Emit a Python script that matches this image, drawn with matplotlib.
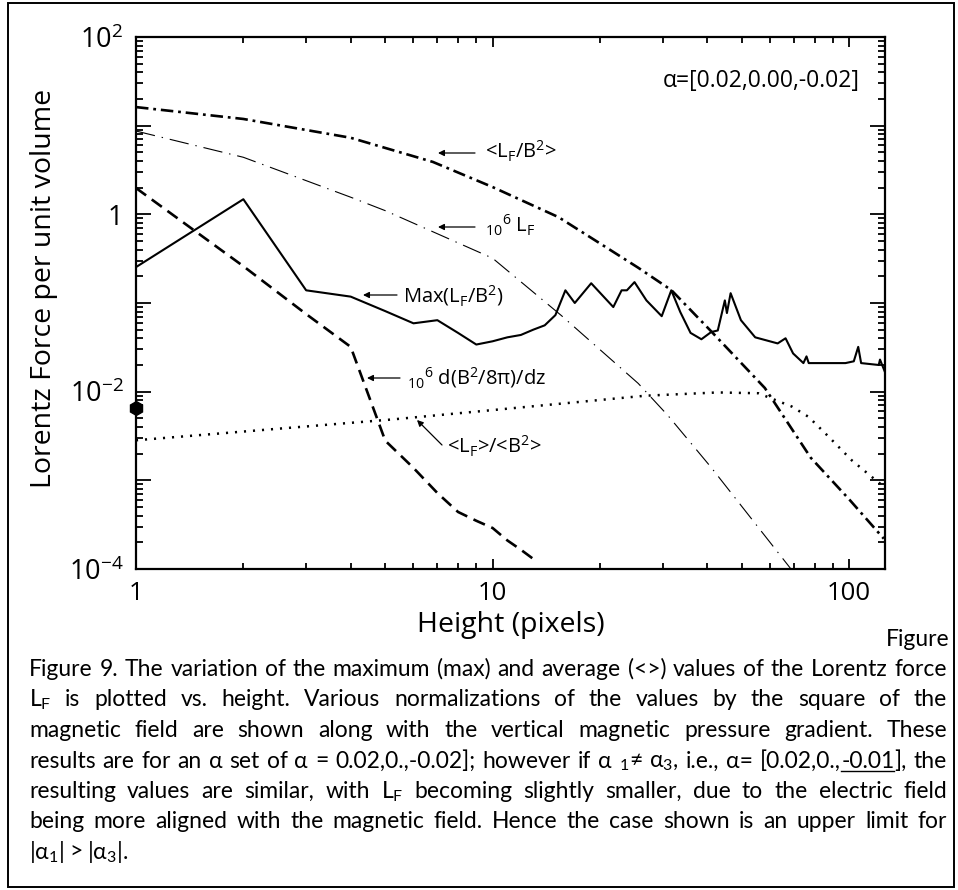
import numpy as np
import matplotlib
matplotlib.use('Agg')
import matplotlib.pyplot as plt
from matplotlib.lines import Line2D
from matplotlib.patches import Rectangle
from matplotlib.ticker import FixedLocator, LogLocator, NullFormatter, FuncFormatter

W, H = 958, 890

# <L_F/B^2>  (thick dash-dot)
h_avg_ratio = [1, 2, 4, 6.8, 10, 15.3, 20, 25.6, 31.7, 41, 58, 78, 100, 125]
avg_ratio = [16.2, 11.9, 7.3, 3.9, 2.03, 0.93, 0.47, 0.25, 0.14, 0.048, 0.011, 1.8e-3, 6.1e-4, 2.2e-4]

# 10^6 L_F  (thin dash-dot)
h_lf = [1, 2, 4, 5, 10, 15.6, 25.6, 31, 41, 68, 72]
lf = [8.7, 4.4, 1.56, 1.1, 0.32, 0.072, 0.0124, 5.4e-3, 1.4e-3, 1.05e-4, 7.8e-5]

# Max(L_F/B^2)  (solid)
h_max = [1, 2, 3, 4, 5, 6, 7, 8, 9, 10, 11, 12, 13, 14, 15, 16, 17, 18.9, 21.8, 23, 23.8,
         25, 27, 29.8, 31.7, 33.6, 35.9, 38.5, 41, 42.8, 44.8, 45.4, 46.5, 49.7, 54.5, 63,
         66.3, 69.6, 74.4, 75.9, 77, 97.6, 103, 106, 108, 121, 122, 126]
max_ratio = [0.254, 1.48, 0.139, 0.118, 0.081, 0.059, 0.064, 0.046, 0.034, 0.037, 0.041, 0.0436,
             0.050, 0.056, 0.073, 0.139, 0.100, 0.167, 0.090, 0.139, 0.139,
             0.172, 0.107, 0.071, 0.139, 0.079, 0.046, 0.039, 0.047, 0.049, 0.107, 0.077, 0.129,
             0.064, 0.041, 0.035, 0.040, 0.027, 0.021, 0.025, 0.021, 0.021, 0.022, 0.032, 0.021,
             0.020, 0.023, 0.0166]

# 10^6 d(B^2/8pi)/dz  (dashed)
h_grad = [1, 2, 3, 4, 5, 6, 7, 8, 9, 10, 11, 12, 13]
grad = [1.98, 0.26, 0.075, 0.032, 0.0028, 1.38e-3, 7.2e-4, 4.4e-4, 3.5e-4, 2.9e-4, 2.1e-4, 1.65e-4, 1.3e-4]

# <L_F>/<B^2>  (dotted)
h_ratio_avg = [1, 5.2, 10, 26.8, 42.8, 55.6, 69, 76.9, 87.6, 101.7, 115.8, 125]
ratio_avg = [2.83e-3, 4.85e-3, 6.2e-3, 9.0e-3, 9.8e-3, 9.6e-3, 6.8e-3, 5.2e-3, 3.1e-3, 1.68e-3, 1.09e-3, 8.5e-4]

marker_h = [1]
marker_v = [6.5e-3]

x_ticks = [1, 10, 100]
x_ticklabels = ['1', '10', '100']
y_exps = [-4, -3, -2, -1, 0, 1, 2]

caption = [
    "Figure 9. The variation of the maximum (max) and average (<>) values of the Lorentz force",
    r"L$_\mathregular{F}$ is plotted vs. height. Various normalizations of the values by the square of the",
    "magnetic field are shown along with the vertical magnetic pressure gradient. These",
    r"results are for an α set of α = 0.02,0.,-0.02]; however if α $_\mathregular{1}$≠ α$_\mathregular{3}$, i.e., α= [0.02,0.,~-0.01~], the",
    r"resulting values are similar, with L$_\mathregular{F}$ becoming slightly smaller, due to the electric field",
    "being more aligned with the magnetic field. Hence the case shown is an upper limit for",
    r"|α$_\mathregular{1}$| > |α$_\mathregular{3}$|.",
]

plt.rcParams['font.family'] = ['Open Sans', 'DejaVu Sans']
plt.rcParams['lines.scale_dashes'] = False

def fx(px):
    return px / W

def fy(py):
    return 1 - py / H

fig = plt.figure(figsize=(W / 100, H / 100), dpi=100)
ax = fig.add_axes([fx(136), fy(569), fx(885) - fx(136), fy(37) - fy(569)])

ax.plot(h_avg_ratio, avg_ratio, color='k', lw=1.9, linestyle=(0, (9, 3.5, 2, 3.5)))
ax.plot(h_lf, lf, color='k', lw=0.8, linestyle=(0, (14, 5, 1, 5)))
ax.plot(h_max, max_ratio, color='k', lw=1.5)
ax.plot(h_grad, grad, color='k', lw=1.9, linestyle=(0, (9, 5)))
ax.plot(h_ratio_avg, ratio_avg, color='k', lw=1.8, linestyle=(0, (1.5, 5)))
ax.plot(marker_h, marker_v, 'h', color='k', ms=10, clip_on=False, zorder=5)

ax.set_xscale('log')
ax.set_yscale('log')
ax.set_xlim(1.0, 126)
ax.set_ylim(1e-4, 1e2)

def ylab(v, pos):
    k = int(round(np.log10(v)))
    if k % 2:
        return ''
    if k == 0:
        return '1'
    return r'$\mathregular{10^{%d}}$' % k

ax.yaxis.set_major_locator(FixedLocator([10.0 ** k for k in y_exps]))
ax.yaxis.set_major_formatter(FuncFormatter(ylab))
ax.yaxis.set_minor_locator(LogLocator(base=10, subs=np.arange(2, 10), numticks=30))
ax.yaxis.set_minor_formatter(NullFormatter())
ax.xaxis.set_major_locator(FixedLocator(x_ticks))
ax.set_xticklabels(x_ticklabels)
ax.xaxis.set_minor_locator(LogLocator(base=10, subs=np.arange(2, 10), numticks=30))
ax.xaxis.set_minor_formatter(NullFormatter())

ax.tick_params(which='both', direction='in', top=True, right=True, width=1.3)
ax.tick_params(axis='y', which='major', length=11, pad=9, labelsize=19.5)
ax.tick_params(axis='y', which='minor', length=5)
ax.tick_params(axis='x', which='major', length=7.5, pad=9, labelsize=18.5)
ax.tick_params(axis='x', which='minor', length=4)
for s in ax.spines.values():
    s.set_linewidth(1.6)

fig.text(fx(44), fy(288), 'Lorentz Force per unit volume', rotation=90, fontsize=20.5,
         ha='center', va='center')
fig.text(fx(511), fy(625), 'Height (pixels)', fontsize=20.5, ha='center', va='center')

# curve labels and arrows
def arrow(x0, y0, x1, y1):
    ax.annotate('', xy=(fx(x1), fy(y1)), xytext=(fx(x0), fy(y0)),
                xycoords='figure fraction', textcoords='figure fraction',
                annotation_clip=False,
                arrowprops=dict(arrowstyle='-|>', color='k', lw=0.9, mutation_scale=9,
                                shrinkA=0, shrinkB=0))

fs_lab = 14.5
fig.text(fx(485), fy(158), r'<L$_\mathregular{F}$/B$^\mathregular{2}$>', fontsize=fs_lab, va='baseline')
arrow(475, 153, 438, 153)
fig.text(fx(485), fy(233), r'$\mathregular{{}_{10}{}^{6}}$ L$_\mathregular{F}$', fontsize=fs_lab, va='baseline')
arrow(475, 227, 438, 227)
fig.text(fx(403), fy(302), r'Max(L$_\mathregular{F}$/B$^\mathregular{2}$)', fontsize=fs_lab, va='baseline')
arrow(397, 295, 363, 295)
fig.text(fx(407), fy(384), r'$\mathregular{{}_{10}{}^{6}}$ d(B$^\mathregular{2}$/8π)/dz', fontsize=fs_lab, va='baseline')
arrow(400, 378, 367, 378)
fig.text(fx(447), fy(453), r'<L$_\mathregular{F}$>/<B$^\mathregular{2}$>', fontsize=fs_lab, va='baseline')
arrow(442, 445, 417, 420)
fig.text(fx(663), fy(87), 'α=[0.02,0.00,-0.02]', fontsize=16.5, va='baseline')

# caption, justified word by word
cap_font = ['Lato', 'DejaVu Sans']
cap_fs = 16.5
fig.text(fx(950), fy(646), 'Figure', fontsize=cap_fs, family=cap_font, ha='right', va='baseline')

renderer = fig.canvas.get_renderer()

def put_line(line, base_py, x0, x1, justify):
    words = []
    total = 0.0
    for tok in line.split(' '):
        segs = []
        for i, s in enumerate(tok.split('~')):
            if not s:
                continue
            t = fig.text(0, fy(base_py), s, fontsize=cap_fs, family=cap_font, va='baseline')
            w = t.get_window_extent(renderer=renderer).width
            segs.append([t, w, i % 2 == 1])
            total += w
        words.append(segs)
    min_gap = cap_fs * 0.25
    gap = cap_fs * 0.3
    if justify and len(words) > 1:
        room = x1 - x0 - (len(words) - 1) * min_gap
        if total > room:
            k = room / total
            for segs in words:
                for sg in segs:
                    sg[0].set_fontsize(cap_fs * k)
                    sg[1] *= k
            total *= k
        gap = (x1 - x0 - total) / (len(words) - 1)
    cur = x0
    for segs in words:
        for t, w, under in segs:
            t.set_x(fx(cur))
            if under:
                fig.add_artist(Line2D([fx(cur), fx(cur + w)], [fy(base_py + 3)] * 2,
                                      transform=fig.transFigure, color='k', lw=1))
            cur += w
        cur += gap

for i, line in enumerate(caption):
    put_line(line, 676 + 30.5 * i, 29, 947, i < len(caption) - 1)

fig.add_artist(Rectangle((fx(8), fy(887)), fx(954) - fx(8), fy(3) - fy(887),
                         transform=fig.transFigure, fill=False, lw=1.4, ec='k'))

fig.savefig('out.png', dpi=100)
